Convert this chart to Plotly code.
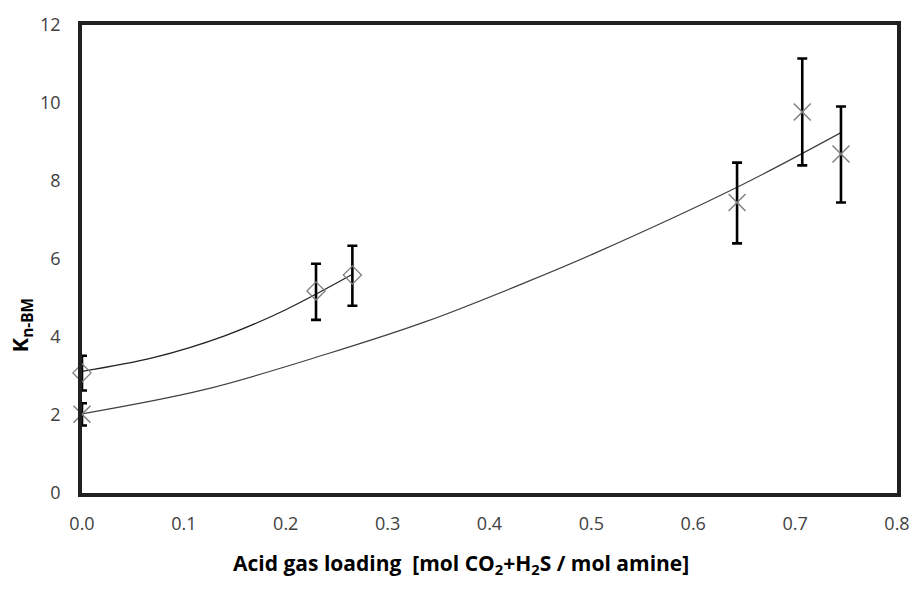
import plotly.graph_objects as go

# Data
dia_x = [0.0, 0.2297, 0.2654]
dia_y = [3.08, 5.18, 5.59]
dia_err_plus = [0.44, 0.70, 0.75]
dia_err_minus = [0.45, 0.74, 0.79]

crs_x = [0.0, 0.643, 0.707, 0.745]
crs_y = [2.02, 7.45, 9.77, 8.69]
crs_err_plus = [0.28, 1.02, 1.37, 1.22]
crs_err_minus = [0.29, 1.05, 1.37, 1.24]

# Fitted curves
dia_fit_x = [0.0, 0.07, 0.14, 0.2, 0.265]
dia_fit_y = [3.12, 3.47, 4.03, 4.70, 5.60]
crs_fit_x = [0.0, 0.12, 0.241, 0.338, 0.4355, 0.5035, 0.643, 0.745]
crs_fit_y = [2.03, 2.65, 3.57, 4.40, 5.40, 6.15, 7.84, 9.24]

x_ticks = [0.0, 0.1, 0.2, 0.3, 0.4, 0.5, 0.6, 0.7, 0.8]
y_ticks = [0, 2, 4, 6, 8, 10, 12]

fig = go.Figure()

fig.add_trace(go.Scatter(x=dia_fit_x, y=dia_fit_y, mode="lines", line=dict(color="#202020", width=1.2, shape="spline"),
                         showlegend=False, hoverinfo="skip", cliponaxis=False))
fig.add_trace(go.Scatter(x=crs_fit_x, y=crs_fit_y, mode="lines", line=dict(color="#404040", width=1.2, shape="spline"),
                         showlegend=False, hoverinfo="skip", cliponaxis=False))

fig.add_trace(go.Scatter(
    x=dia_x, y=dia_y, mode="markers",
    marker=dict(symbol="diamond-open", size=14, color="#808080", line=dict(width=1.3, color="#808080")),
    error_y=dict(type="data", symmetric=False, array=dia_err_plus, arrayminus=dia_err_minus,
                 color="black", thickness=2.6, width=5),
    showlegend=False, cliponaxis=False))

fig.add_trace(go.Scatter(
    x=crs_x, y=crs_y, mode="markers",
    marker=dict(symbol="x-thin-open", size=17, color="#808080", line=dict(width=1.5, color="#808080")),
    error_y=dict(type="data", symmetric=False, array=crs_err_plus, arrayminus=crs_err_minus,
                 color="black", thickness=2.6, width=5),
    showlegend=False, cliponaxis=False))

font_tick = dict(family="Open Sans, Liberation Sans, sans-serif", size=18, color="#404040")

fig.update_xaxes(range=[0, 0.8], tickvals=x_ticks, ticktext=[f"{v:.1f}" for v in x_ticks],
                 showgrid=False, zeroline=False, showline=True, linecolor="#202020", linewidth=3.5, mirror=True,
                 ticks="", tickfont=font_tick, ticklabelstandoff=12, fixedrange=True)
fig.update_yaxes(range=[0, 12], tickvals=y_ticks, ticktext=[str(v) for v in y_ticks],
                 showgrid=False, zeroline=False, showline=True, linecolor="#202020", linewidth=3.5, mirror=True,
                 ticks="", tickfont=font_tick, ticklabelstandoff=14, fixedrange=True)

fig.add_annotation(text="<b>Acid gas loading  [mol CO<sub>2</sub>+H<sub>2</sub>S / mol amine]</b>",
                   xref="paper", yref="paper", x=0.465, y=-0.115, xanchor="center", yanchor="top",
                   showarrow=False, font=dict(family="Open Sans, Liberation Sans, sans-serif", size=21, color="black"))
fig.add_annotation(text="<b>K<sub>n-BM</sub></b>",
                   xref="paper", yref="paper", x=-0.075, y=0.36, xanchor="center", yanchor="middle",
                   textangle=-90, showarrow=False,
                   font=dict(family="Open Sans, Liberation Sans, sans-serif", size=22, color="black"))

fig.update_layout(width=922, height=595, margin=dict(l=82, r=17, t=20, b=102),
                  paper_bgcolor="white", plot_bgcolor="white")

fig.write_html("out.html")
